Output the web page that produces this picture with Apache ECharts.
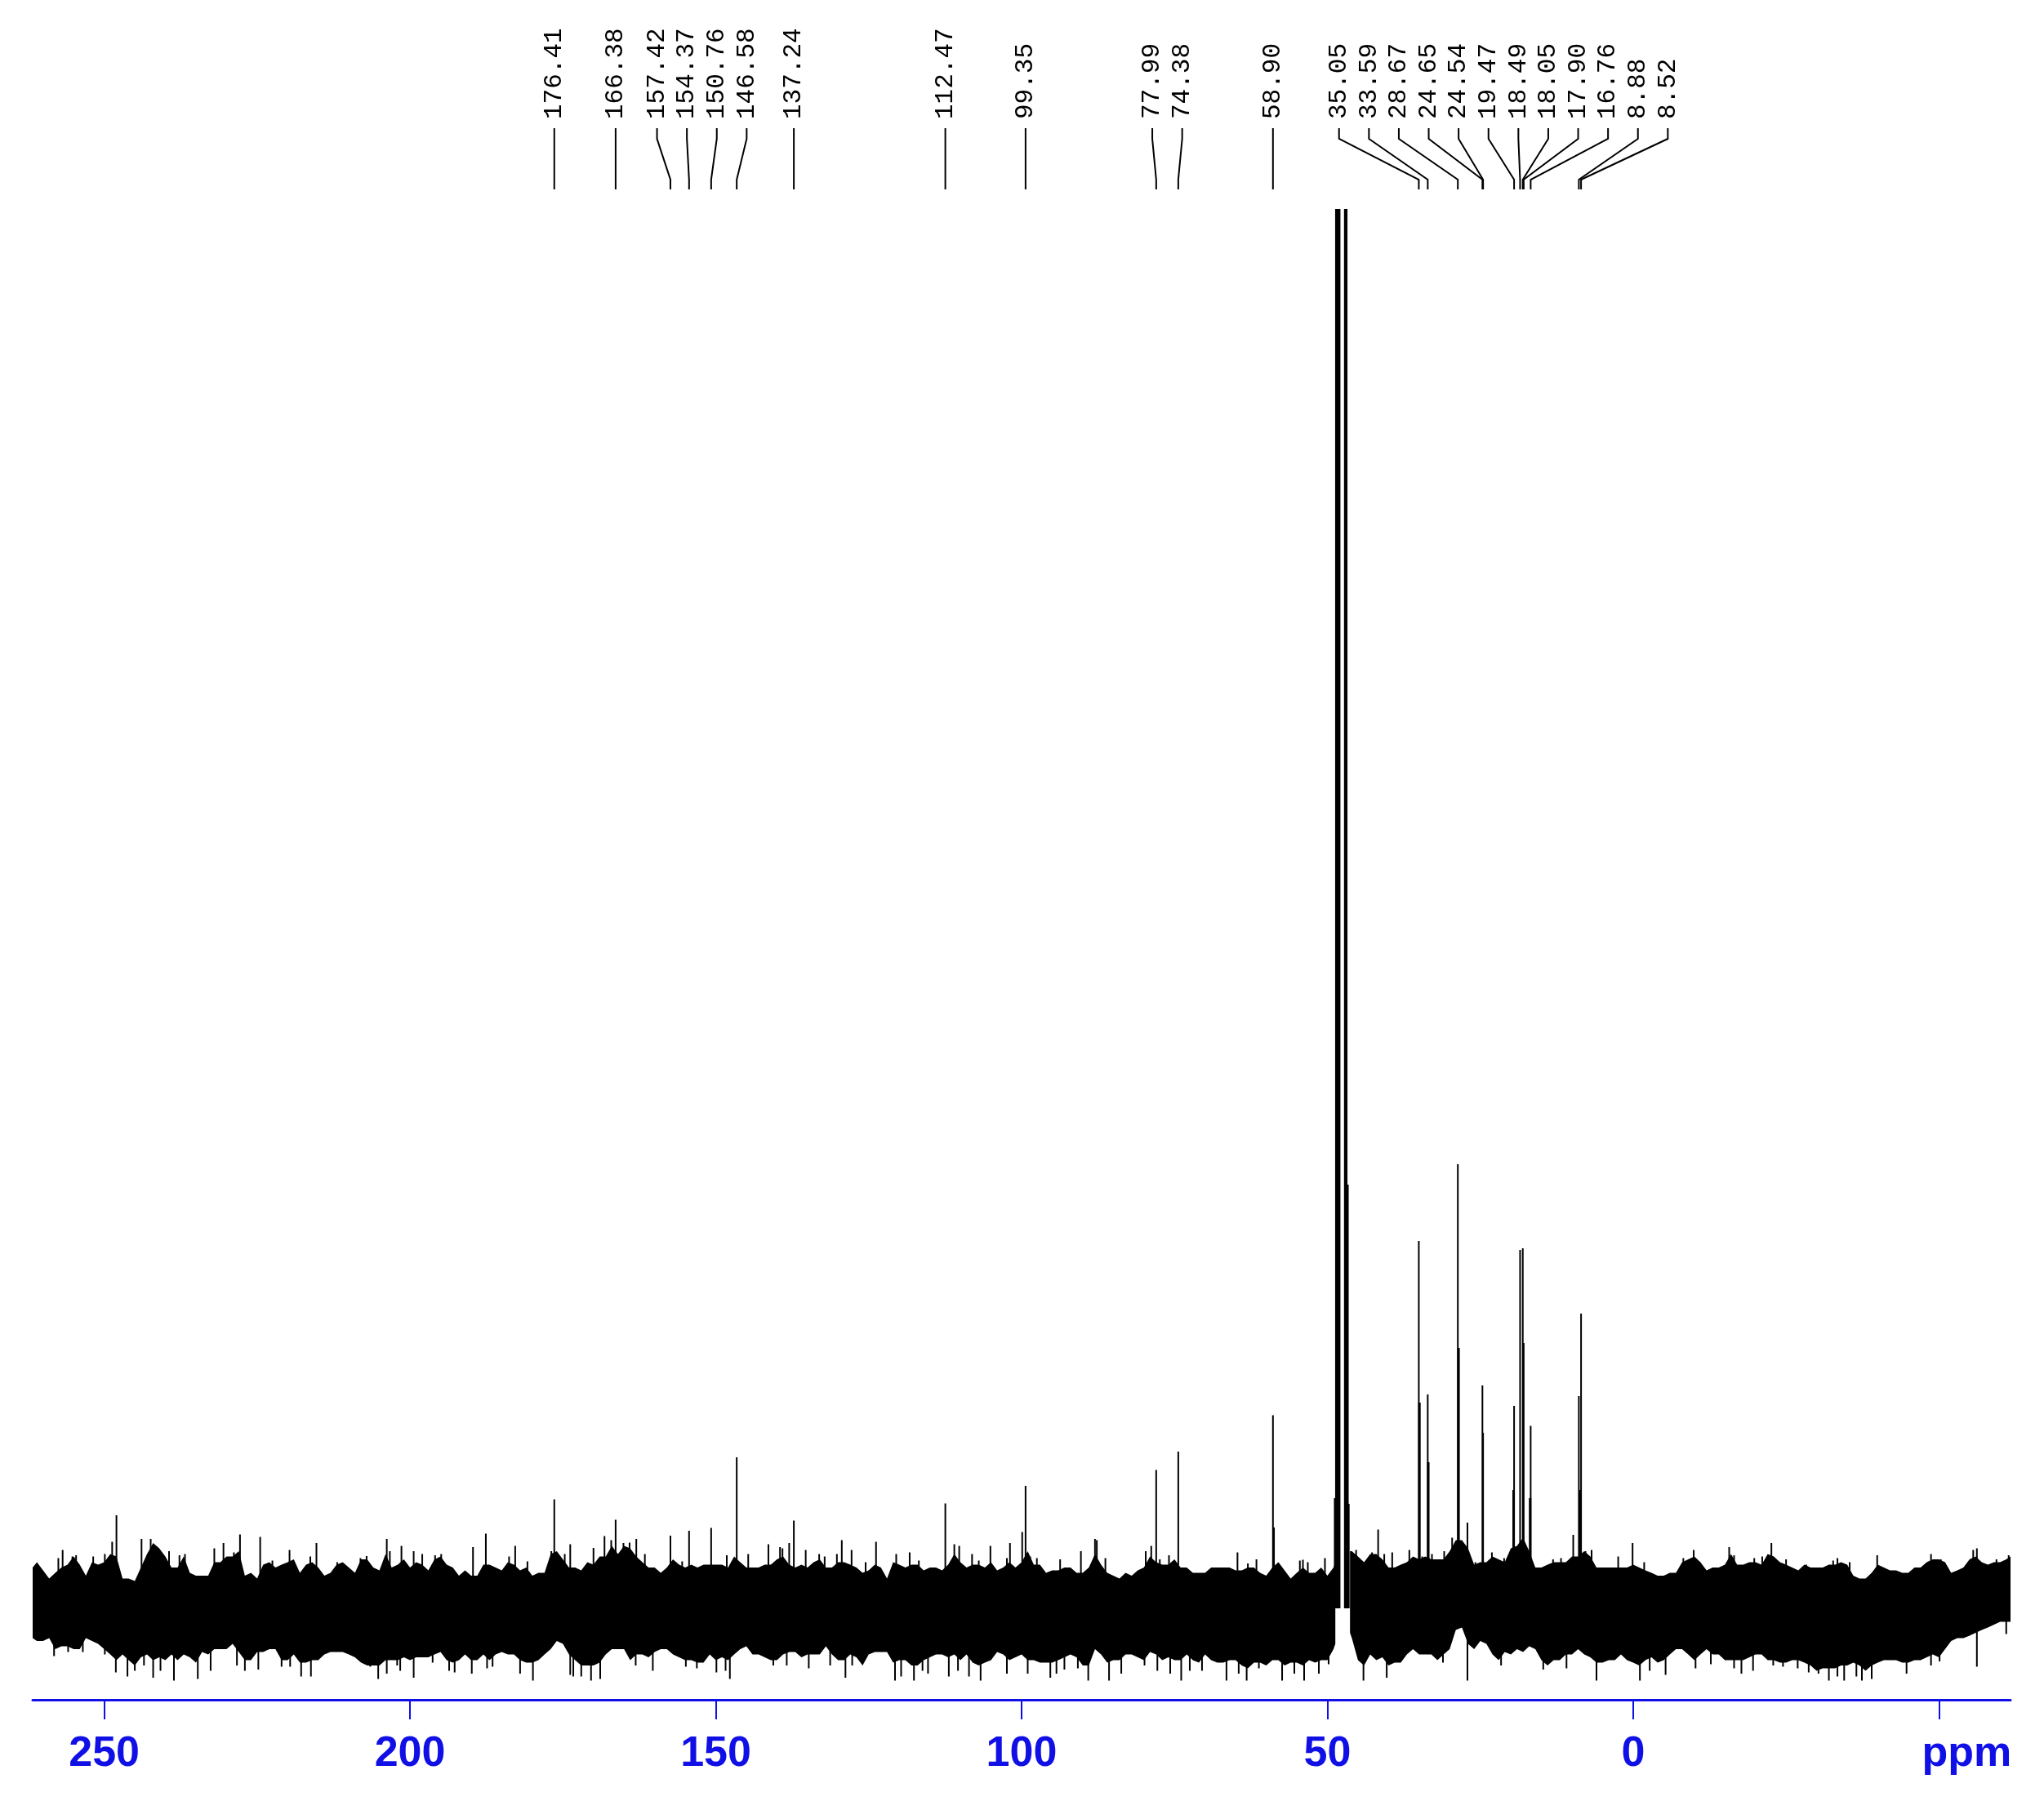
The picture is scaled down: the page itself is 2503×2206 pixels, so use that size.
<!DOCTYPE html>
<html><head><meta charset="utf-8">
<script src="https://cdn.jsdelivr.net/npm/echarts@6/dist/echarts.min.js"></script>
<style>html,body{margin:0;padding:0;background:#fff}#c{width:2503px;height:2206px}</style>
</head><body><div id="c"></div>
<script>
// ---- DATA ----
// labelled signals (ppm) and their heights (relative intensity, baseline = 0)
const peakShifts  = [176.41,166.38,157.42,154.37,150.76,146.58,137.24,112.47,99.35,77.99,74.38,58.90,35.05,33.59,28.67,24.65,24.54,19.47,18.49,18.05,17.90,16.76,8.88,8.52];
const peakHeights = [26.7,21.7,17.8,19.0,19.7,37.0,21.5,25.7,30.0,33.9,38.4,47.3,90.0,52.4,108.8,54.6,43.0,49.6,87.8,88.2,65.0,44.7,52.0,72.2];
// shoulders seen at the foot of some signals
const shoulderShifts  = [58.8,34.95,33.5,28.55,19.55,16.85,8.7];
const shoulderHeights = [19.8,50.4,35.8,63.8,29.0,27.0,29.0];
// solvent multiplet (runs off the top of the plot)
const solventShifts  = [48.8,48.6,48.45,48.3,48.15,48.0,47.15,47.0,46.85,46.65,46.5];
const solventHeights = [27,400,400,400,400,400,400,400,400,103.8,25.6];

// noise band: upper / lower edge of the baseline noise, 1 ppm steps
const bandShifts = [
  261.7,261,260,259,258,257,256,255,254,253,252,251,250,249,248,247,246,245,244,243,242,241,240,239,238,237,236,235,234,233,232,231,230,229,228,227,226,225,224,223,222,221,220,219,218,217,216,215,214,213,212,211,210,209,208,207,206,205,204,203,202,201,200,199,198,197,
  196,195,194,193,192,191,190,189,188,187,186,185,184,183,182,181,180,179,178,177,176,175,174,173,172,171,170,169,168,167,166,165,164,163,162,161,160,159,158,157,156,155,154,153,152,151,150,149,148,147,146,145,144,143,142,141,140,139,138,137,136,135,134,133,
  132,131,130,129,128,127,126,125,124,123,122,121,120,119,118,117,116,115,114,113,112,111,110,109,108,107,106,105,104,103,102,101,100,99,98,97,96,95,94,93,92,91,90,89,88,87,86,85,84,83,82,81,80,79,78,77,76,75,74,73,72,71,70,69,68,67,
  66,65,64,63,62,61,60,59,58,57,56,55,54,53,52,51,50,49,48.7,48.5,46.6,46.3,46,45,
  44,43,42,41,40,39,38,37,36,35,34,33,32,31,30,29,28,27,26,25,24,23,22,21,20,19,18,17,16,15,14,13,12,11,10,9,8,7,6,5,4,3,
  2,1,0,-1,-2,-3,-4,-5,-6,-7,-8,-9,-10,-11,-12,-13,-14,-15,-16,-17,-18,-19,-20,-21,-22,-23,-24,-25,-26,-27,-28,-29,-30,-31,-32,-33,-34,-35,-36,-37,-38,-39,-40,-41,-42,-43,-44,-45,-46,-47,-48,-49,-50,-51,-52,-53,-54,-55,-56,-57,-58,-59,-60,-61,-61.7];
const bandUpper = [
  10,11.3,9.3,7.3,8.7,10,10.7,12.7,10.7,8, 11.3,10.7,11.3,13.3,12.7,7.3,7.3,6.7,10,13.3, 16,14.7,12.7,10,10,12.7,8.7,8,8,8, 11.3,11.3,12.7,12.7,14,8,8.7,7.3,10.7,11.3, 10,10.7,11.3,12,8.7,10.7,11.3,10,8,8.7, 10.7,11.3,10,8.7,12,12,10,9.3,13.3,10, 10.7,12,10,11.3,10.7,9.3,
  12,12.7,10.7,10,8,9.3,8,8,10.7,10.7, 10,9.3,11.3,10.7,9.3,10,8,8.7,8.7,13.3, 14,12,10,10,9.3,11.3,10.7,12.7,12.7,15.3, 13.3,15.3,14.7,12.7,11.3,10,10,8.7,10,12, 10.7,10,10.7,10,10.7,10.7,10.7,10.7,10,12.7, 11.3,10,10,10,10.7,10.7,12,12.7,10.7,10, 10.7,10,11.3,12,
  10,10,11.3,11.3,10.7,10,8.7,9.3,10.7,10, 7.3,11.3,10.7,10,10.7,10.7,9.3,10,10,9.3, 10.7,13.3,11.3,10,10.7,10.7,10,11.3,9.3,10, 11.3,10,11.3,14,10.7,10.7,8.7,9.3,9.3,10, 10,8.7,8.7,10,13.3,10.7,8.7,8,7.3,8.7, 8,9.3,10,12.7,11.3,10.7,10.7,12,10,10, 8.7,8.7,8.7,10,10,10,
  10,9.3,9.3,10,10,8.7,8,10,11.3,9.3, 7.3,8.7,10,8.7,8.7,10,8,10,11.3,0, 0,14,14,12.7,
  11.3,13.3,13.3,12,10,10,10.7,11.3,12.7,12, 12.7,12,12,12,14,16.7,16.7,14.7,10.7,11.3, 11.3,12.7,12,11.3,14.7,15.3,17.3,14,10,10, 10.7,11.3,11.3,11.3,12.7,12.7,14,12.7,10,10, 10,10,
  10,10,10.7,10,9.3,8.7,8,8,8.7,8.7, 11.3,12,12.7,11.3,9.3,10,10,10.7,13.3,10.7, 10.7,11.3,11.3,10.7,13.3,12.7,11.3,10.7,10,9.3, 10.7,10,10,10,10.7,10.7,11.3,10.7,8,7.3, 7.3,8.7,10.7,10,9.3,9.3,8.7,8.7,10,10, 11.3,12,12,11.3,8.7,9.3,10,12,12.7,11.3, 10.7,11.3,11.3,12,12.7];
const bandLower = [
  -7.3,-8,-8,-7.3,-10,-9.3,-9.3,-10,-10,-7.3, -8,-8.7,-10,-11.3,-12.7,-11.3,-12.7,-14,-12,-11.3, -12.7,-12,-12.7,-11.3,-12.7,-11.3,-12,-13.3,-10.7,-11.3, -10,-10,-10,-8.7,-10.7,-12.7,-12.7,-10.7,-10.7,-10, -10,-12.7,-12.7,-11.3,-13.3,-13.3,-12.7,-12.7,-11.3,-10.7, -10.7,-10.7,-11.3,-12,-13.3,-14,-14,-14,-12.7,-12.7, -12.7,-12,-12.7,-12,-12,-12,
  -11.3,-10.7,-12.7,-13.3,-12.7,-11.3,-12.7,-12.7,-11.3,-12.7, -11.3,-10.7,-11.3,-11.3,-12.7,-13.3,-13.3,-12.7,-11.3,-10, -8,-8.7,-11.3,-12.7,-14,-14,-14,-13.3,-11.3,-10, -10,-10,-12.7,-11.3,-11.3,-12,-10.7,-10,-10,-11.3, -12,-12.7,-12.7,-13.3,-13.3,-11.3,-12.7,-12,-12.7,-11.3, -10,-9.3,-11.3,-11.3,-12,-12.7,-12.7,-11.3,-10.7,-10.7, -12,-11.3,-11.3,-11.3,
  -9.3,-11.3,-12.7,-12.7,-11.3,-12,-14,-11.3,-10.7,-10.7, -10.7,-13.3,-12.7,-12.7,-14,-14,-12.7,-12,-11.3,-11.3, -12,-11.3,-12.7,-11.3,-13.3,-14,-13.3,-12.7,-10.7,-11.3, -12.7,-12,-11.3,-12.7,-12.7,-13.3,-13.3,-13.3,-12.7,-12, -11.3,-12,-14,-14,-10,-11.3,-13.3,-12.7,-12.7,-11.3, -11.3,-12,-12.7,-10.7,-11.3,-12.7,-12,-12.7,-12.7,-11.3, -12.7,-13.3,-11.3,-12.7,-13.3,-13.3,
  -12.7,-12.7,-14,-14.7,-13.3,-13.3,-14,-12.7,-12.7,-14, -13.3,-13.3,-14,-12.7,-13.3,-12.7,-12.7,-10,-8.7,0, 0,-6,-7.3,-12.7,
  -14,-11.3,-12.7,-12,-14,-13.3,-13.3,-11.3,-10,-11.3, -11.3,-11.3,-12.7,-11.3,-10,-5.3,-4.7,-8.7,-10,-8, -8.7,-11.3,-12.7,-10.7,-11.3,-10,-10.7,-9.3,-10,-12.7, -14,-12.7,-12.7,-11.3,-11.3,-10,-11.3,-12,-13.3,-13.3, -12.7,-12.7,
  -11.3,-12.7,-13.3,-14,-12.7,-12,-13.3,-12.7,-11.3,-10, -10,-11.3,-12.7,-11.3,-10,-11.3,-11.3,-12.7,-12.7,-12.7, -12.7,-12,-11.3,-11.3,-12.7,-12.7,-13.3,-13.3,-12.7,-12.7, -13.3,-14,-15.3,-14.7,-14.7,-14.7,-14,-14,-13.3,-14, -15.3,-14,-13.3,-12.7,-12.7,-12.7,-13.3,-13.3,-12.7,-12.7, -12,-11.3,-12,-10,-8,-7.3,-7.3,-6.7,-6,-5.3, -4.7,-4,-3.3,-3.3,-3.3];

// individual noise spikes that stand out of the band (ppm, intensity)
const spikeShifts = [
  256.8,248.7,248.0,243.9,242.4,232.0,230.5,227.8,224.5,215.3,203.8,201.4,199.4,
  257.5,255.2,254.6,251.8,249.9,243.0,239.4,237.7,236.8,228.8,222.5,219.7,216.3,211.9,208.1,207.1,203.3,198.0,
  189.7,187.6,182.8,173.8,168.2,164.1,163.0,144.7,141.4,135.3,
  195.9,194.9,183.8,180.8,176.9,174.7,170.0,167.1,165.1,161.6,155.5,148.2,139.5,139.1,138.0,133.1,
  129.4,127.8,123.8,111.0,105.1,101.9,90.3,88.0,79.7,75.9,
  132.2,130.2,125.5,120.5,118.3,116.8,110.2,108.1,107.0,102.4,99.9,98.6,97.5,93.7,87.7,86.3,78.8,77.4,
  64.7,61.6,54.5,50.4,45.3,41.7,39.4,36.6,27.1,23.1,21.1,13.1,9.8,6.8,
  63.0,54.0,53.2,42.7,40.7,34.5,32.9,30.9,29.6,25.8,11.8,7.8,
  0.1,-9.9,-15.7,-22.6,-39.9,-48.7,-55.6,-56.2,
  2.45,-1.8,-8.2,-16.5,-19.8,-21.1,-25.0,-28.3,-32.7,-33.4,-35.4,-50.3,-59.4,-61.4,
  258.2,248.1,246.2,242.0,238.6,234.7,232.6,227.0,217.8,216.2,205.2,199.4,
  255.9,253.5,249.9,245.0,243.5,240.8,228.3,224.8,221.0,219.6,206.5,203.8,202.1,201.6,
  189.9,179.9,173.3,170.4,168.9,160.3,149.9,147.7,134.8,
  196.3,193.6,192.7,187.4,186.5,182.0,173.8,172.0,163.1,154.9,153.1,148.4,140.6,138.4,
  128.8,120.7,117.6,106.7,99.0,95.3,89.1,85.7,77.8,73.9,
  131.3,127.7,119.7,116.2,115.3,111.9,110.4,108.6,102.4,94.3,93.0,90.8,83.7,79.9,75.7,72.5,70.5,
  66.5,63.2,57.4,53.8,44.1,40.3,27.1,21.6,14.7,6.0,
  64.5,61.2,55.4,51.4,49.8,31.1,10.9,
  -1.1,-5.3,-17.7,-32.0,-34.5,-37.4,-39.0,-44.7,-56.2,
  -2.7,-10.2,-12.7,-16.5,-19.6,-22.9,-24.5,-26.9,-28.7,-30.3,-33.4,-36.5,-48.7,-50.1,-61.0];
const spikeValues = [
  14.3,16.3,22.8,17,17,14.7,16,18.1,17.5,16,17,15.3,14,
  12.3,12.7,13,12.7,13.3,13,14,13,13.3,13.7,11.7,14.3,12.7,11.3,12.3,12.8,14,13.3,
  15,18.3,15.3,15.7,17.7,16.1,17,13.3,15.7,14.3,
  13,13.3,12.7,11.5,14,13.3,14.8,16.7,16,13.3,11.5,13,15,14.7,16,13.3,
  16.7,14.3,16.3,15.7,15.3,16,14,17,14,13,
  12.7,13.3,11.3,13.3,13.7,11.7,15.3,13.3,11.7,12.3,18.7,12.7,12.3,12,16.7,12.3,15.3,12,
  13.7,12,11.7,12.3,14.3,19.3,13.7,14.3,21,13.7,12.3,12,18,14.3,
  11,11.9,11.3,13.7,13.3,12.7,13.3,14,17.3,11.3,12.3,14,
  16,14.3,15,16,13,13.3,14.3,14.7,
  12.7,11.3,12.3,13,12.3,12.7,12,10.7,11.7,12.3,11.3,12,12,13,
  -11.7,-15.7,-16.7,-17,-17.7,-17.3,-15.3,-15.3,-16.7,-16.7,-17.3,-17,
  -10.7,-10.7,-11.3,-15.3,-14,-15.3,-14,-15,-14.3,-14.3,-14.3,-16,-14,-15.3,
  -16,-17.7,-16.7,-17.7,-17.3,-15.3,-15.7,-17.3,-14.7,
  -13.3,-15.3,-15.7,-14.7,-14.3,-16,-16.3,-16.7,-14,-14.3,-14.7,-15.3,-14,-14,
  -17,-17.7,-17.7,-17.7,-16,-17,-17.7,-17.7,-15.3,-17.7,
  -14,-14,-16.7,-15.3,-16,-16.7,-15.3,-16.7,-16,-16,-15,-14.7,-16,-14,-16,-15.3,-15.3,
  -17.7,-17.7,-17.7,-17.7,-17.7,-17,-17.7,-14,-15,-17.7,
  -16,-14.7,-16,-16,-13.7,-13.3,-14.7,
  -17.7,-16.3,-16,-17.7,-17.7,-17.7,-17.3,-16,-14.3,
  -15.3,-14.7,-13.7,-14.7,-15.3,-14,-14.3,-14.7,-15.7,-16,-16.7,-16.7,-14,-13,-6.3];

// axis ticks
const majorTicks = [250,200,150,100,50,0,-50];
const minorTicks = [260,250,240,230,220,210,200,190,180,170,160,150,140,130,120,110,100,90,80,70,60,50,40,30,20,10,0,-10,-20,-30,-40,-50,-60];
const unitLabel = 'ppm';
const axisMin = -61.7, axisMax = 261.7;

// ---- CHART ----
const BLUE = '#1010e6';
const AXFONT = '"Liberation Sans Narrow", "Liberation Sans", Arial, sans-serif';
const chart = echarts.init(document.getElementById('c'), null, {renderer: 'canvas'});

function vlineSeries(xs, ys, width, z) {
  const n = Math.min(xs.length, ys.length);
  return {
    type: 'custom', coordinateSystem: 'cartesian2d', clip: true, z: z,
    data: xs.slice(0, n).map((x, i) => [x, ys[i]]),
    encode: {x: 0, y: 1},
    renderItem: function (params, api) {
      const p0 = api.coord([api.value(0), 0]);
      const p1 = api.coord([api.value(0), api.value(1)]);
      return {type: 'line', shape: {x1: p0[0], y1: p0[1], x2: p1[0], y2: p1[1]},
        style: {stroke: '#000', lineWidth: width}};
    }
  };
}

const GAP = 36.6;
function labelLayout(api) {
  const xs = peakShifts.map(s => api.coord([s, 0])[0]);
  const order = xs.map((x, i) => i).sort((a, b) => xs[a] - xs[b]);
  const place = g => {
    const m = g.members.reduce((s, i) => s + xs[i], 0) / g.members.length;
    g.start = m - (g.members.length - 1) / 2 * GAP;
  };
  let groups = order.map(i => ({members: [i]}));
  groups.forEach(place);
  let changed = true;
  while (changed) {
    changed = false;
    for (let k = 0; k < groups.length - 1; k++) {
      const a = groups[k], b = groups[k + 1];
      if (a.start + a.members.length * GAP > b.start + 0.01) {
        const g = {members: a.members.concat(b.members)};
        place(g);
        groups.splice(k, 2, g);
        changed = true;
        break;
      }
    }
  }
  const lx = [];
  groups.forEach(g => g.members.forEach((i, j) => { lx[i] = g.start + j * GAP; }));
  return {xs, lx};
}

const option = {
  animation: false,
  backgroundColor: '#fff',
  grid: {left: 40, right: 41, top: 256, bottom: 124},
  xAxis: [{
    type: 'value', min: axisMin, max: axisMax, inverse: true, position: 'bottom',
    axisLine: {show: true, onZero: false, lineStyle: {color: BLUE, width: 3}},
    axisTick: {show: true, customValues: majorTicks, length: 24, lineStyle: {color: BLUE, width: 2}},
    axisLabel: {
      show: true, customValues: majorTicks, margin: 41,
      color: BLUE, fontSize: 52, fontWeight: 'bold', fontFamily: AXFONT,
      formatter: v => (v === -50 ? '{u|' + unitLabel + '}' : String(v)),
      rich: {u: {color: BLUE, fontSize: 52, fontWeight: 'bold', fontFamily: AXFONT, padding: [0, 0, 0, 68]}}
    },
    splitLine: {show: false}
  }, {
    type: 'value', min: axisMin, max: axisMax, inverse: true, position: 'bottom', gridIndex: 0,
    axisLine: {show: false},
    axisTick: {show: true, customValues: minorTicks, length: 11, lineStyle: {color: BLUE, width: 2}},
    axisLabel: {show: false},
    splitLine: {show: false}
  }],
  yAxis: {type: 'value', min: -22.4, max: 342.8, show: false},
  series: [
    {
      type: 'custom', coordinateSystem: 'cartesian2d', clip: true, z: 1,
      data: [[0, 0]], encode: {x: 0, y: 1},
      renderItem: function (params, api) {
        const children = [];
        const n = Math.min(bandShifts.length, bandUpper.length, bandLower.length);
        let run = [];
        const flush = () => {
          if (run.length > 1) {
            const top = run.map(i => api.coord([bandShifts[i], bandUpper[i]]));
            const bot = run.map(i => api.coord([bandShifts[i], bandLower[i]])).reverse();
            children.push({type: 'polygon', shape: {points: top.concat(bot)}, style: {fill: '#000'}});
          }
          run = [];
        };
        for (let i = 0; i < n; i++) {
          if (bandUpper[i] === 0 && bandLower[i] === 0) flush(); else run.push(i);
        }
        flush();
        return {type: 'group', children};
      }
    },
    vlineSeries(spikeShifts, spikeValues, 2, 2),
    vlineSeries(shoulderShifts, shoulderHeights, 3, 3),
    vlineSeries(solventShifts, solventHeights, 2, 3),
    vlineSeries(peakShifts, peakHeights, 2, 4),
    {
      type: 'custom', coordinateSystem: 'cartesian2d', clip: false, z: 5,
      data: peakShifts.map(s => [s, 0]), encode: {x: 0, y: 1},
      renderItem: function (params, api) {
        const i = params.dataIndex;
        const L = labelLayout(api);
        const lx = L.lx[i], px = L.xs[i];
        return {type: 'group', children: [
          {type: 'polyline', shape: {points: [[lx, 157], [lx, 170], [px, 220], [px, 232]]},
            style: {stroke: '#000', lineWidth: 2, fill: null}},
          {type: 'text', x: lx, y: 146, rotation: Math.PI / 2,
            style: {text: peakShifts[i].toFixed(2), fill: '#000', fontSize: 31,
              fontFamily: '"Liberation Mono", "DejaVu Sans Mono", monospace',
              align: 'left', verticalAlign: 'middle'}}
        ]};
      }
    }
  ]
};
chart.setOption(option);
</script>
</body></html>
